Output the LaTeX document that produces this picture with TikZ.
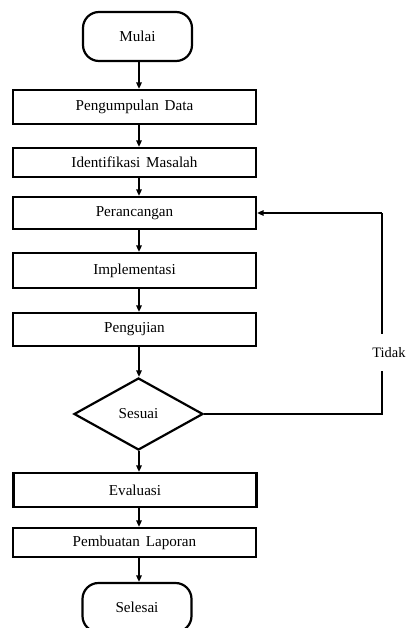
\documentclass[tikz,border=0pt]{standalone}
\usepackage{fontspec}
\setmainfont{Liberation Serif}
\usetikzlibrary{shapes.geometric,arrows.meta}
\begin{document}
\begin{tikzpicture}[x=1bp,y=-1bp,
  every node/.style={font=\fontsize{15.2}{18}\selectfont, inner sep=0pt},
  procbox/.style={draw, line width=2.2bp, minimum width=243bp, anchor=center},
  term/.style={draw, line width=2.2bp, rounded corners=16bp, minimum width=109bp, minimum height=49bp},
  decide/.style={draw, line width=2.2bp, diamond, aspect=1.79, minimum width=129bp, minimum height=72bp},
  flow/.style={line width=1.5bp, -{Triangle[length=6.5bp,width=5.5bp]}},
  loopline/.style={line width=2.2bp}]
\useasboundingbox (0,0) rectangle (406,628);
\coordinate (ax) at (139,0);
\coordinate (lx) at (382,0);
\node[term] (mulai) at (137.5,36.5) {Mulai};
\node[procbox, minimum height=34bp] (p1) at (134.5,107) {Pengumpulan\hspace{2bp} Data};
\node[procbox, minimum height=29bp] (p2) at (134.5,162.5) {Identifikasi\hspace{2bp} Masalah};
\node[procbox, minimum height=32bp] (p3) at (134.5,213) {Perancangan};
\node[procbox, minimum height=35bp] (p4) at (134.5,270.5) {Implementasi};
\node[procbox, minimum height=33bp] (p5) at (134.5,329.5) {Pengujian};
\node[decide] (d) at (138.5,414) {Sesuai};
\node[procbox, minimum height=34bp] (p6) at (135,490) {Evaluasi};
\node[procbox, minimum height=29bp] (p7) at (134.5,542.5) {Pembuatan\hspace{2bp} Laporan};
\node[term] (selesai) at (137,607.5) {Selesai};
\node[minimum height=37bp, font=\fontsize{14.5}{17}\selectfont] (tidak) at (389,352.5) {Tidak};
\draw[flow] (mulai.south -| ax) -- (p1.north -| ax);
\draw[flow] (p1.south -| ax) -- (p2.north -| ax);
\draw[flow] (p2.south -| ax) -- (p3.north -| ax);
\draw[flow] (p3.south -| ax) -- (p4.north -| ax);
\draw[flow] (p4.south -| ax) -- (p5.north -| ax);
\draw[flow] (p5.south -| ax) -- (d.north -| ax);
\draw[flow] (d.south -| ax) -- (p6.north -| ax);
\draw[flow] (p6.south -| ax) -- (p7.north -| ax);
\draw[flow] (p7.south -| ax) -- (selesai.north -| ax);
\draw[loopline] (d.east) -- (d.east -| lx) -- (tidak.south -| lx);
\draw[loopline] (tidak.north -| lx) -- (p3.east -| lx);
\draw[flow] (p3.east -| lx) -- (p3.east);
\end{tikzpicture}
\end{document}
